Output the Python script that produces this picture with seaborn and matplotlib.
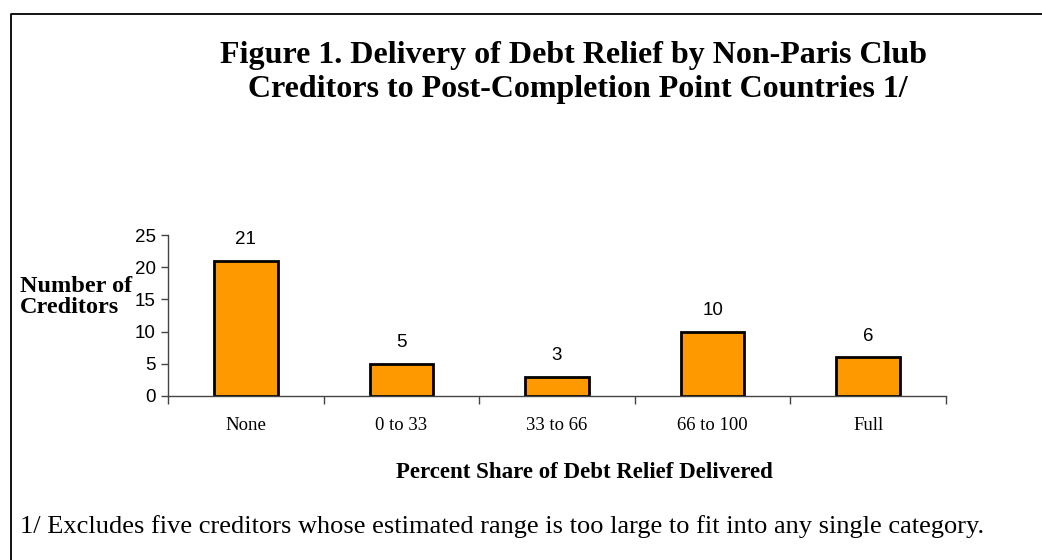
import matplotlib
matplotlib.use("Agg")
import matplotlib.pyplot as plt
import seaborn as sns
import pandas as pd
from matplotlib.lines import Line2D

categories = ["None", "0 to 33", "33 to 66", "66 to 100", "Full"]
values = [21, 5, 3, 10, 6]
yticks = [0, 5, 10, 15, 20, 25]

sns.set_theme(style="white")
plt.rcParams['font.family'] = ['Liberation Serif', 'DejaVu Serif']
plt.rcParams['text.color'] = 'black'
plt.rcParams['xtick.color'] = 'black'
plt.rcParams['ytick.color'] = 'black'

df = pd.DataFrame({"cat": categories, "val": values})

W, H = 1042, 560
fig = plt.figure(figsize=(W / 100, H / 100), dpi=100)
ax = fig.add_axes([168 / W, 1 - 396 / H, (946 - 168) / W, (396 - 235) / H])

sns.barplot(data=df, x="cat", y="val", color="#FF9900", edgecolor="black",
            linewidth=2, width=0.41, saturation=1, ax=ax)

ax.set_xlim(-0.5, len(categories) - 0.5)
ax.set_ylim(0, 25)
ax.set_yticks(yticks)
ax.set_yticklabels([str(t) for t in yticks], family="Liberation Sans", fontsize=13.5)
for lab in ax.get_xticklabels():
    lab.set_fontsize(13.5)
    lab.set_family("Liberation Serif")
ax.set_xticks([i + 0.5 for i in range(-1, len(categories))], minor=True)
ax.tick_params(axis="x", which="major", bottom=True, length=0, pad=15)
ax.tick_params(axis="x", which="minor", bottom=True, length=6, width=1,
               color="#444444", direction="out")
ax.tick_params(axis="y", which="major", left=True, length=5, width=1,
               color="#444444", direction="out", pad=4)
for s in ["top", "right"]:
    ax.spines[s].set_visible(False)
for s in ["left", "bottom"]:
    ax.spines[s].set_color("#444444")
    ax.spines[s].set_linewidth(1)
ax.set_xlabel("")
ax.set_ylabel("")

for i, v in enumerate(values):
    ax.annotate(str(v), (i, v), xytext=(0, 9), textcoords="offset points",
                ha="center", va="bottom", family="Liberation Sans", fontsize=13.5)

fig.text(574 / W, 1 - 55 / H, "Figure 1. Delivery of Debt Relief by Non-Paris Club",
         ha="center", va="center", fontsize=23, fontweight="bold")
fig.text(578 / W, 1 - 90 / H, "Creditors to Post-Completion Point Countries 1/",
         ha="center", va="center", fontsize=23, fontweight="bold")
fig.text(20 / W, 1 - 297 / H, "Number of\nCreditors", ha="left", va="center",
         fontsize=17.5, fontweight="bold", linespacing=1.0)
fig.text(584 / W, 1 - 473 / H, "Percent Share of Debt Relief Delivered",
         ha="center", va="center", fontsize=16.5, fontweight="bold")
fig.text(20 / W, 1 - 527 / H,
         "1/ Excludes five creditors whose estimated range is too large to fit into any single category.",
         ha="left", va="center", fontsize=19)

fig.add_artist(Line2D([11 / W, 11 / W, 1.0], [0, 1 - 14 / H, 1 - 14 / H],
                      transform=fig.transFigure, color="black", linewidth=1.3))

fig.savefig("out.png", dpi=100)
